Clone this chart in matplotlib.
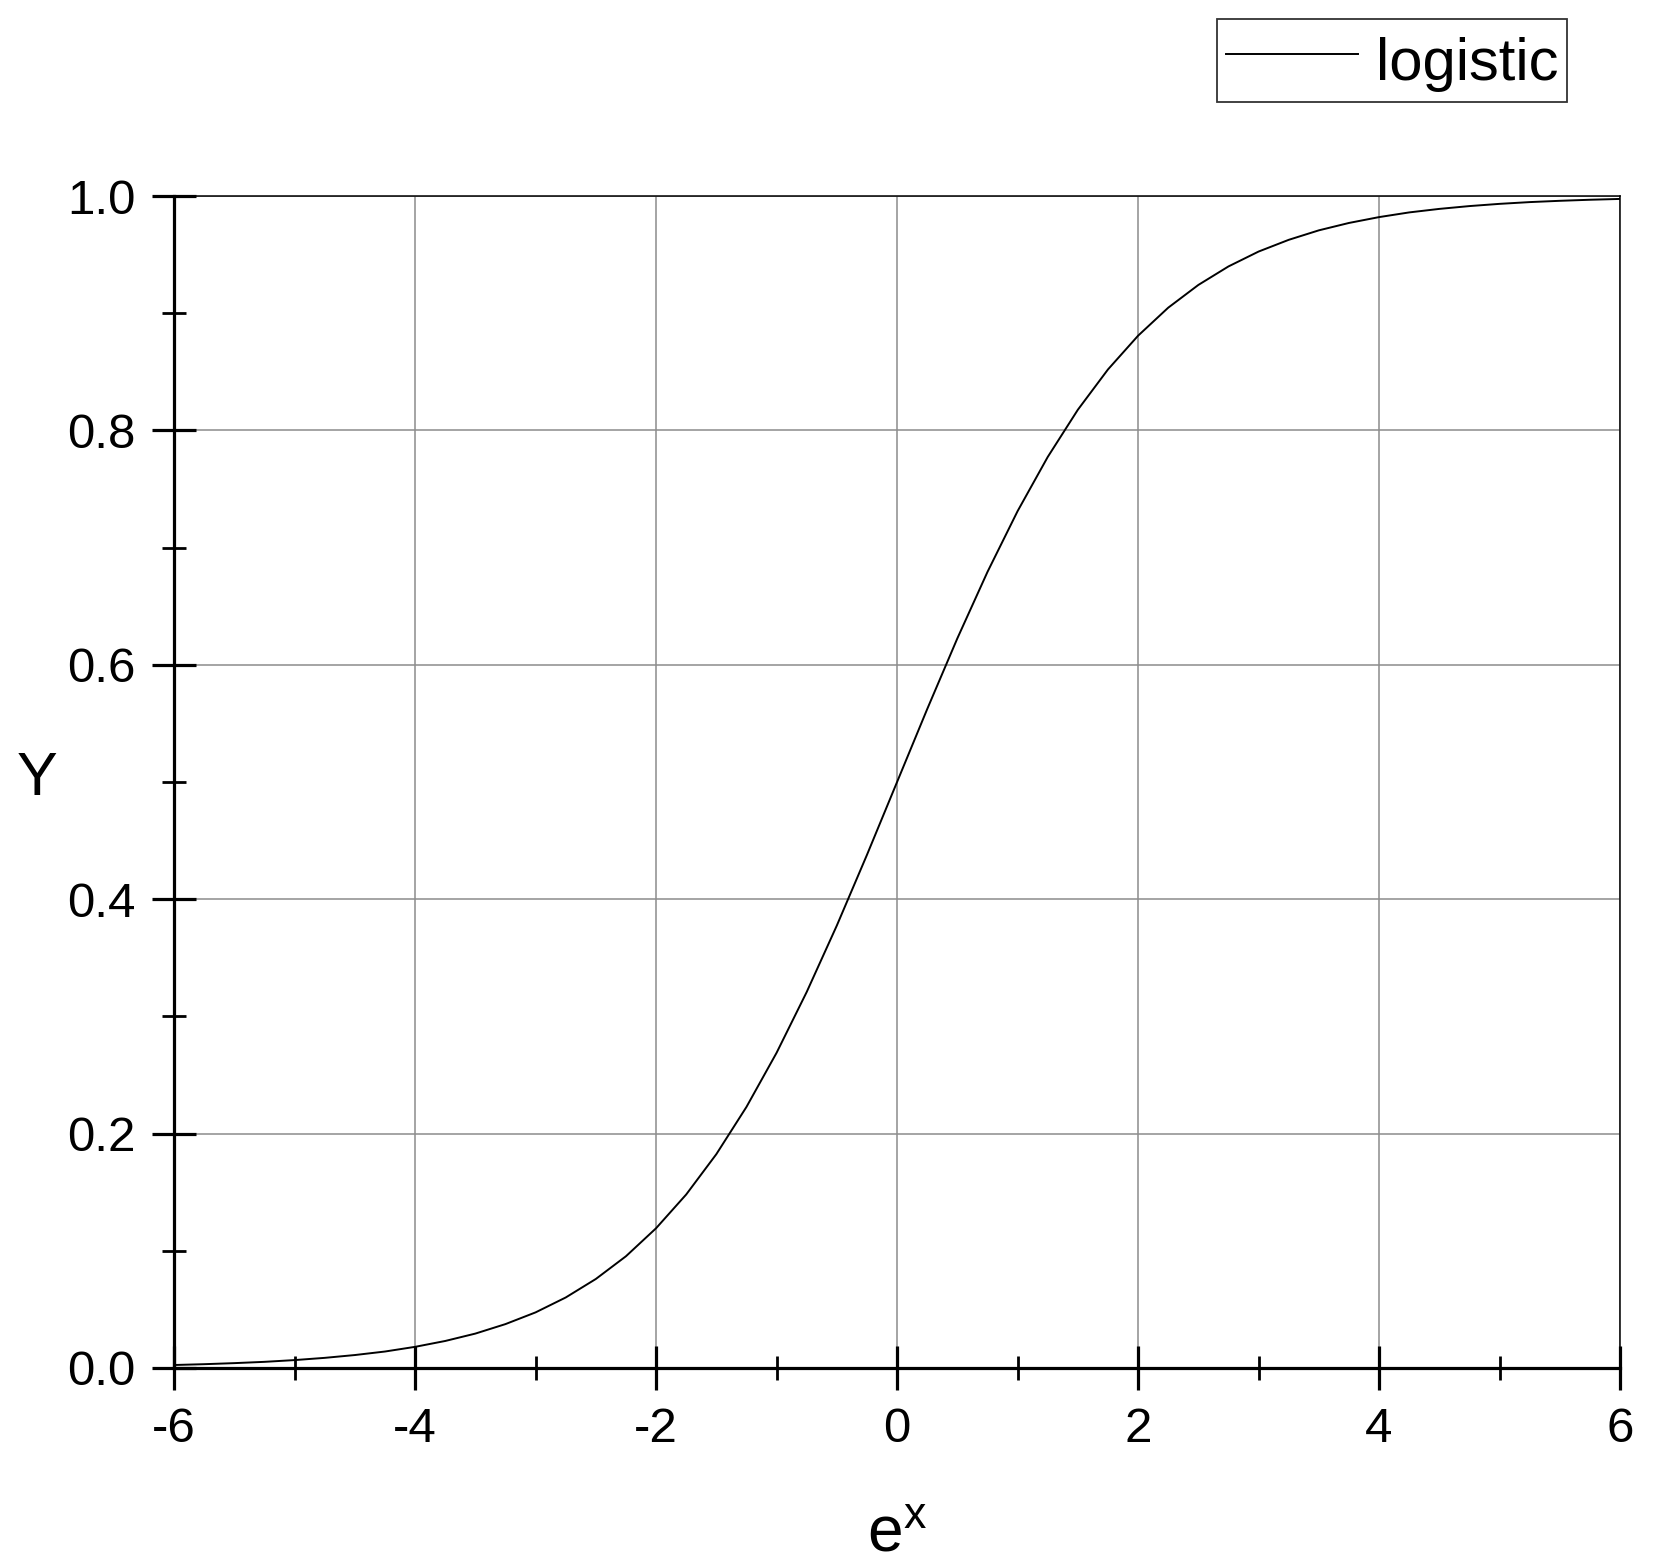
import matplotlib
matplotlib.use("Agg")
import matplotlib.pyplot as plt

plt.rcParams['font.family'] = ['Liberation Sans', 'DejaVu Sans']
plt.rcParams['mathtext.fontset'] = 'custom'
plt.rcParams['mathtext.rm'] = 'Liberation Sans'
plt.rcParams['mathtext.it'] = 'Liberation Sans'

# Data
x_vals = [-6.0, -5.75, -5.5, -5.25, -5.0, -4.75, -4.5, -4.25, -4.0, -3.75, -3.5, -3.25,
          -3.0, -2.75, -2.5, -2.25, -2.0, -1.75, -1.5, -1.25, -1.0, -0.75, -0.5, -0.25,
          0.0, 0.25, 0.5, 0.75, 1.0, 1.25, 1.5, 1.75, 2.0, 2.25, 2.5, 2.75,
          3.0, 3.25, 3.5, 3.75, 4.0, 4.25, 4.5, 4.75, 5.0, 5.25, 5.5, 5.75, 6.0]
y_vals = [0.0025, 0.0032, 0.0041, 0.0052, 0.0067, 0.0086, 0.0110, 0.0140, 0.0180, 0.0230,
          0.0293, 0.0374, 0.0474, 0.0601, 0.0759, 0.0953, 0.1192, 0.1480, 0.1824, 0.2227,
          0.2689, 0.3208, 0.3775, 0.4378, 0.5000, 0.5622, 0.6225, 0.6792, 0.7311, 0.7773,
          0.8176, 0.8520, 0.8808, 0.9047, 0.9241, 0.9399, 0.9526, 0.9626, 0.9707, 0.9770,
          0.9820, 0.9860, 0.9890, 0.9914, 0.9933, 0.9948, 0.9959, 0.9968, 0.9975]
series_label = "logistic"
x_major = [-6, -4, -2, 0, 2, 4, 6]
x_minor = [-5, -3, -1, 1, 3, 5]
y_major = [0.0, 0.2, 0.4, 0.6, 0.8, 1.0]
y_minor = [0.1, 0.3, 0.5, 0.7, 0.9]
y_ticklabels = ["0.0", "0.2", "0.4", "0.6", "0.8", "1.0"]
x_ticklabels = ["-6", "-4", "-2", "0", "2", "4", "6"]

fig = plt.figure(figsize=(16.53, 15.63), dpi=100)
ax = fig.add_axes([0.1053, 0.1248, 0.8748, 0.7498])

ax.plot(x_vals, y_vals, color='black', lw=1.4, label=series_label, zorder=3)
ax.set_xlim(-6, 6)
ax.set_ylim(0, 1)

ax.set_xticks(x_major)
ax.set_xticklabels(x_ticklabels)
ax.set_xticks(x_minor, minor=True)
ax.set_yticks(y_major)
ax.set_yticklabels(y_ticklabels)
ax.set_yticks(y_minor, minor=True)

ax.grid(True, which='major', color='#8c8c8c', lw=1.1, zorder=1)
ax.set_axisbelow(True)

for side in ['left', 'bottom']:
    ax.spines[side].set_linewidth(2.3)
for side in ['top', 'right']:
    ax.spines[side].set_linewidth(1.1)

ax.tick_params(axis='both', which='major', direction='inout', length=32, width=2.3,
               labelsize=35.5, color='black')
ax.tick_params(axis='both', which='minor', direction='inout', length=17, width=2.0,
               color='black')
ax.tick_params(axis='x', which='major', pad=12)
ax.tick_params(axis='y', which='major', pad=11.5)

ax.set_ylabel('Y', fontsize=44, rotation=0, va='center', ha='center')
ax.yaxis.set_label_coords(-0.0947, 0.5017)
ax.set_xlabel(r'e$^{\mathrm{x}}$', fontsize=46, va='top')
ax.xaxis.set_label_coords(0.5, -0.116)

leg = fig.legend(loc='upper right', bbox_to_anchor=(0.948, 0.988), fontsize=43,
                 frameon=True, fancybox=False, edgecolor='black', handlelength=2.2,
                 handleheight=1.3, handletextpad=0.3, borderpad=0.15, borderaxespad=0)
leg.get_frame().set_linewidth(1.3)
for line in leg.get_lines():
    line.set_linewidth(1.4)

fig.savefig('out.png', dpi=100)
